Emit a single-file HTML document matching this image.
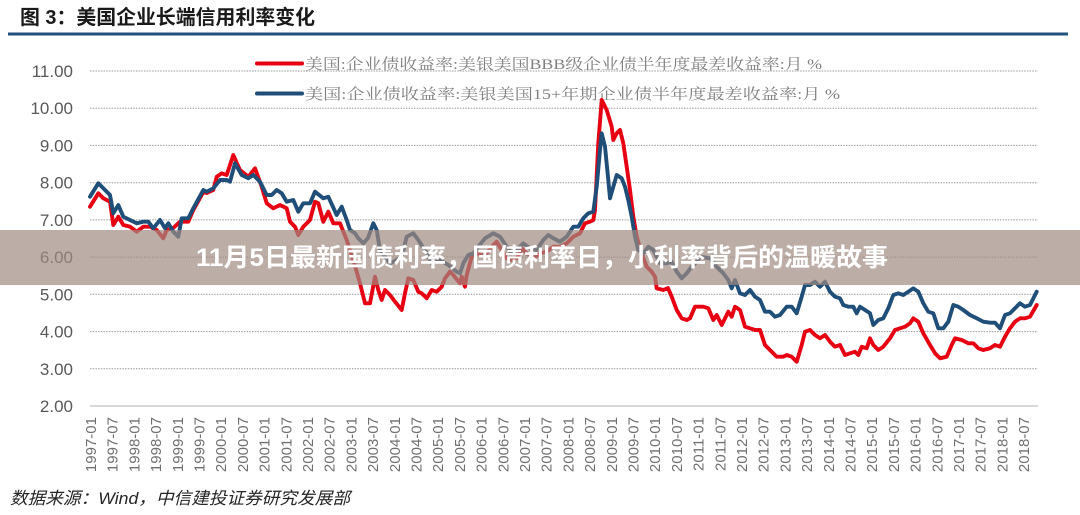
<!DOCTYPE html>
<html>
<head>
<meta charset="utf-8">
<style>
html,body{margin:0;padding:0;background:#fff;}
body{width:1080px;height:515px;overflow:hidden;}
svg{display:block;}
</style>
</head>
<body>
<svg width="1080" height="515" viewBox="0 0 1080 515" xmlns="http://www.w3.org/2000/svg">
<rect x="0" y="0" width="1080" height="515" fill="#ffffff"/>
<!-- Title -->
<text x="20" y="24" font-family="'Liberation Sans','Noto Sans CJK SC',sans-serif" font-weight="bold" font-size="20" fill="#1a1a1a" textLength="295" lengthAdjust="spacingAndGlyphs">图 3：美国企业长端信用利率变化</text>
<rect x="8" y="32.5" width="1060" height="3" fill="#23527c"/>

<!-- Gridlines -->
<g stroke="#9a9a9a" stroke-width="1" stroke-dasharray="1.5 1.2">
<line x1="90" y1="71" x2="1038" y2="71"/>
<line x1="90" y1="108.2" x2="1038" y2="108.2"/>
<line x1="90" y1="145.4" x2="1038" y2="145.4"/>
<line x1="90" y1="182.7" x2="1038" y2="182.7"/>
<line x1="90" y1="219.9" x2="1038" y2="219.9"/>
<line x1="90" y1="257.1" x2="1038" y2="257.1"/>
<line x1="90" y1="294.3" x2="1038" y2="294.3"/>
<line x1="90" y1="331.6" x2="1038" y2="331.6"/>
<line x1="90" y1="368.8" x2="1038" y2="368.8"/>
</g>
<line x1="90" y1="406" x2="1038" y2="406" stroke="#d9d9d9" stroke-width="2"/>

<!-- Y labels -->
<g font-family="'Liberation Sans',sans-serif" font-size="17" fill="#595959" text-anchor="end">
<text x="73" y="77">11.00</text>
<text x="73" y="114.2">10.00</text>
<text x="73" y="151.4">9.00</text>
<text x="73" y="188.7">8.00</text>
<text x="73" y="225.9">7.00</text>
<text x="73" y="263.1">6.00</text>
<text x="73" y="300.3">5.00</text>
<text x="73" y="337.6">4.00</text>
<text x="73" y="374.8">3.00</text>
<text x="73" y="412">2.00</text>
</g>

<!-- X labels -->
<g font-family="'Liberation Sans',sans-serif" font-size="15" fill="#707070" text-anchor="end">
<text transform="translate(96.0,417) rotate(-90)">1997-01</text>
<text transform="translate(117.7,417) rotate(-90)">1997-07</text>
<text transform="translate(139.4,417) rotate(-90)">1998-01</text>
<text transform="translate(161.1,417) rotate(-90)">1998-07</text>
<text transform="translate(182.8,417) rotate(-90)">1999-01</text>
<text transform="translate(204.5,417) rotate(-90)">1999-07</text>
<text transform="translate(226.2,417) rotate(-90)">2000-01</text>
<text transform="translate(247.9,417) rotate(-90)">2000-07</text>
<text transform="translate(269.6,417) rotate(-90)">2001-01</text>
<text transform="translate(291.3,417) rotate(-90)">2001-07</text>
<text transform="translate(313.0,417) rotate(-90)">2002-01</text>
<text transform="translate(334.7,417) rotate(-90)">2002-07</text>
<text transform="translate(356.4,417) rotate(-90)">2003-01</text>
<text transform="translate(378.1,417) rotate(-90)">2003-07</text>
<text transform="translate(399.8,417) rotate(-90)">2004-01</text>
<text transform="translate(421.5,417) rotate(-90)">2004-07</text>
<text transform="translate(443.2,417) rotate(-90)">2005-01</text>
<text transform="translate(464.9,417) rotate(-90)">2005-07</text>
<text transform="translate(486.6,417) rotate(-90)">2006-01</text>
<text transform="translate(508.3,417) rotate(-90)">2006-07</text>
<text transform="translate(530.0,417) rotate(-90)">2007-01</text>
<text transform="translate(551.7,417) rotate(-90)">2007-07</text>
<text transform="translate(573.4,417) rotate(-90)">2008-01</text>
<text transform="translate(595.1,417) rotate(-90)">2008-07</text>
<text transform="translate(616.8,417) rotate(-90)">2009-01</text>
<text transform="translate(638.5,417) rotate(-90)">2009-07</text>
<text transform="translate(660.2,417) rotate(-90)">2010-01</text>
<text transform="translate(681.9,417) rotate(-90)">2010-07</text>
<text transform="translate(703.6,417) rotate(-90)">2011-01</text>
<text transform="translate(725.3,417) rotate(-90)">2011-07</text>
<text transform="translate(747.0,417) rotate(-90)">2012-01</text>
<text transform="translate(768.7,417) rotate(-90)">2012-07</text>
<text transform="translate(790.4,417) rotate(-90)">2013-01</text>
<text transform="translate(812.1,417) rotate(-90)">2013-07</text>
<text transform="translate(833.8,417) rotate(-90)">2014-01</text>
<text transform="translate(855.5,417) rotate(-90)">2014-07</text>
<text transform="translate(877.2,417) rotate(-90)">2015-01</text>
<text transform="translate(898.9,417) rotate(-90)">2015-07</text>
<text transform="translate(920.6,417) rotate(-90)">2016-01</text>
<text transform="translate(942.3,417) rotate(-90)">2016-07</text>
<text transform="translate(964.0,417) rotate(-90)">2017-01</text>
<text transform="translate(985.7,417) rotate(-90)">2017-07</text>
<text transform="translate(1007.4,417) rotate(-90)">2018-01</text>
<text transform="translate(1029.1,417) rotate(-90)">2018-07</text>
</g>

<!-- Legend -->
<line x1="257" y1="63.5" x2="302" y2="63.5" stroke="#e60012" stroke-width="4" stroke-linecap="round"/>
<line x1="257" y1="93.5" x2="302" y2="93.5" stroke="#1f4e79" stroke-width="4" stroke-linecap="round"/>
<g font-family="'Liberation Serif','Noto Serif CJK SC',serif" font-size="15" fill="#808080">
<text x="305" y="69" textLength="517" lengthAdjust="spacingAndGlyphs">美国:企业债收益率:美银美国BBB级企业债半年度最差收益率:月 %</text>
<text x="305" y="99" textLength="535" lengthAdjust="spacingAndGlyphs">美国:企业债收益率:美银美国15+年期企业债半年度最差收益率:月 %</text>
</g>

<!-- Red series -->
<polyline fill="none" stroke="#e60012" stroke-width="3.9" stroke-linejoin="round" stroke-linecap="round" points="90,206.7 98.3,193.3 103.3,198.3 110,201.7 113.3,225 118.3,216.7 123.3,225 130,226.7 136.7,231.7 143.3,226.7 150,226.7 156.7,230 163.3,238.3 166.7,230 173.3,228 180,221.7 188.3,221.7 193.3,210 203.3,192 206.7,193 213.3,190 216.7,176.7 221.7,173.3 226.7,175 233.3,155 240,170 248.3,176.7 255,168.3 261.7,186.7 266.7,203.3 273.3,208.3 280,205 286.7,208.3 290,221.7 295,226.7 298.3,235 303.3,226.7 310,220 315,201.7 318.3,203.3 323.3,221.7 328.3,211.7 333.3,223.3 340,223.3 346.7,240 353.3,260 360,283.3 365,303.3 370,303.3 375,276.7 378.3,290 381.7,300 385,290 390,295 395,301.7 401.7,310 405,293.3 408.3,278.3 413.3,280 418.3,291.7 421.7,293.3 426.7,298.3 431.7,290 436.7,291.7 441.7,286.7 445,278.3 450,271.7 453.3,275 460,283.3 461.7,276.7 465,286.7 466.7,275 471.7,256.7 476.7,253.3 481.7,255 486.7,253.3 491.7,246.7 496.7,241.7 501.7,250 506.7,258.3 511.7,260 516.7,258.3 521.7,248.3 526.7,253.3 533.3,258.3 540,253.3 546.7,251.7 553.3,246.7 560,246.7 566.7,243.3 573.3,236.7 580,233.3 585,223.3 590,221.7 593.3,220 595,210 598.3,143.3 601.7,100 606.7,110 611.7,126.7 613.3,140 616.7,133.3 620,130 623.3,143.3 626.7,166.7 630,190 633.3,216.7 636.7,236.7 641.7,253.3 646.7,266.7 651.7,271.7 655,276.7 656.7,288.3 663.3,290 668,288 671.7,296.7 676.7,310 681.7,318.3 686.7,320 690,318.3 695,306.7 703.3,306.7 708.3,308.3 713.3,320 716.7,315 721.7,325 728.3,311.7 731.7,316.7 735,306.7 740,310 745,326.7 750,328.3 755,330 760,330 765,345 771.7,351.7 776.7,356.7 783.3,356.7 786.7,355 791.7,356.7 796.7,361.7 801.7,345 805,331.7 810,330 815,335 820,338.3 825,335 830,341.7 835,346.7 840,345 845,355 850,353.3 855,351.7 858.3,355 861.7,346.7 866.7,348.3 870,338.3 873.3,345 878.3,350 883.3,346.7 890,338.3 895,330 900,328.3 905,326.7 910,323.3 913.3,318.3 918.3,321.7 923.3,333.3 930,345 935,353.3 940,358.3 946.7,356.7 951.7,345 955,338.3 961.7,340 968.3,343.3 973.3,343.3 978.3,348.3 983.3,350 990,348.3 995,345 1000,346.7 1005,336.7 1010,328.3 1015,321.7 1020,318.3 1025,318.3 1030,316.7 1036.7,305"/>

<!-- Blue series -->
<polyline fill="none" stroke="#1f4e79" stroke-width="3.9" stroke-linejoin="round" stroke-linecap="round" points="90,196.7 98.3,183.3 105,190 110,195 113.3,213.3 118.3,205 123.3,216.7 130,220 136.7,223.3 143.3,221.7 148.3,221.7 153.3,228.3 160,220 165,228.3 168.3,223.3 173.3,231.7 178.3,236.7 181.7,218.3 188.3,218.3 193.3,208.3 203.3,190 206.7,191.7 213.3,188.3 220,180 226.7,180 230,181.7 235,163.3 241.7,175 248.3,178.3 253.3,175 260,181.7 266.7,195 271.7,195 276.7,190 281.7,193.3 286.7,201.7 293.3,200 298.3,211.7 303.3,203.3 310,203.3 315,191.7 323.3,198.3 328.3,196.7 336.7,215 341.7,206.7 346.7,220 350,230 355,233.3 358.3,238.3 363.3,243.3 368,238 373.3,223.3 376.7,230 380,250 385,256.7 390,263.3 396.7,260 401.7,256.7 406.7,236.7 413.3,233.3 418.3,240 426.7,253.3 431.7,263.3 440,260 448.3,265 456.7,271.7 460,273.3 463.3,263.3 468.3,255 473.3,253.3 478.3,246.7 485,238.3 493.3,233.3 500,236.7 506.7,246.7 511.7,253.3 516.7,250 523.3,243.3 530,248.3 536.7,250 543.3,240 548.3,235 553.3,238.3 560,241.7 566.7,236.7 573.3,226.7 578.3,226.7 583.3,218.3 588.3,213.3 593.3,211.7 596.7,186.7 600,150 601.7,133.3 605,146.7 608.3,180 610,198.3 613.3,186.7 616.7,175 621.7,178.3 625,186.7 628.3,200 631.7,216.7 635,236.7 638.3,250 643.3,253.3 648.3,246.7 653.3,250 660,263.3 666.7,263.3 671.7,261.7 676.7,271.7 681.7,278.3 686.7,273.3 691.7,266.7 696.7,262 700,256.7 710,258.3 716.7,266.7 723.3,273.3 728.3,280 731.7,288.3 735,280 740,293.3 745,295 750,290 755,296.7 760,300 765,311.7 770,311.7 775,316.7 780,315 786.7,306.7 791.7,306.7 796.7,313.3 801.7,296.7 805,285 810,285 815,281.7 820,286.7 825,281.7 830,291.7 835,296.7 840,298.3 843.3,305 848.3,306.7 853.3,306.7 856.7,313.3 860,306.7 865,310 870,313.3 873.3,325 878.3,320 883.3,318.3 888.3,308.3 893.3,295 898.3,293.3 903.3,295 908.3,291.7 913.3,288.3 918.3,291.7 923.3,303.3 928.3,311.7 933.3,313.3 938.3,328.3 943.3,328.3 948.3,321.7 953.3,305 958.3,306.7 963.3,310 970,315 976.7,318.3 983.3,321.7 990,322.7 995,322.7 1000,328.3 1005,315 1010,313.3 1015,308.3 1020,303.3 1025,306.7 1030,305 1036.7,291.7"/>

<!-- Source -->
<text x="10" y="504" font-family="'Liberation Sans','Noto Sans CJK SC',sans-serif" font-style="italic" font-size="17" fill="#262626" textLength="340" lengthAdjust="spacingAndGlyphs">数据来源：Wind，中信建投证券研究发展部</text>

<!-- Banner overlay -->
<rect x="0" y="230" width="1080" height="55" fill="rgb(160,138,128)" fill-opacity="0.7"/>
<text x="196" y="266" font-family="'Liberation Sans','Noto Sans CJK SC',sans-serif" font-weight="bold" font-size="25" fill="#ffffff" textLength="692" lengthAdjust="spacingAndGlyphs">11月5日最新国债利率，国债利率日，小利率背后的温暖故事</text>
</svg>
</body>
</html>
